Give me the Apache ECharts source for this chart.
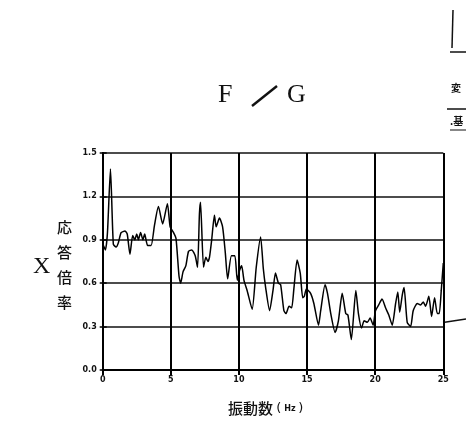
<!DOCTYPE html>
<html>
<head>
<meta charset="utf-8">
<script src="https://cdn.jsdelivr.net/npm/echarts@6/dist/echarts.min.js"></script>
<style>html,body{margin:0;padding:0;background:#fff;}#c{width:466px;height:426px;}</style>
</head>
<body>
<div id="c"></div>
<script>
// Frequency (Hz) and response ratio
var freq = [0.05,0.2,0.35,0.57,0.78,0.98,1.15,1.35,1.64,1.8,2.0,2.2,2.35,2.5,2.62,2.78,2.95,3.08,3.3,3.55,3.8,4.09,4.4,4.75,4.95,
  5.2,5.38,5.6,5.72,5.9,6.1,6.3,6.54,6.79,6.96,7.1,7.18,7.4,7.57,7.72,7.84,8.0,8.2,8.33,8.57,8.8,9.0,9.17,9.45,9.7,9.88,
  10.05,10.2,10.37,10.6,10.97,11.27,11.59,11.79,11.96,12.25,12.5,12.68,12.9,13.06,13.3,13.45,13.68,13.87,14.04,14.27,14.5,14.68,14.8,14.95,
  15.26,15.5,15.84,16.0,16.32,16.5,16.74,17.06,17.3,17.58,17.84,18.0,18.25,18.58,18.77,19.0,19.19,19.43,19.63,19.85,
  20.02,20.26,20.5,20.76,21.0,21.25,21.5,21.66,21.8,21.99,22.12,22.35,22.6,22.79,23.09,23.33,23.53,23.7,23.94,24.14,24.36,24.56,24.7,24.85,25.0];
var ratio = [0.86,0.83,0.95,1.39,0.87,0.85,0.88,0.95,0.96,0.94,0.80,0.93,0.90,0.94,0.90,0.95,0.90,0.94,0.86,0.86,1.00,1.13,1.01,1.15,0.99,
  0.95,0.91,0.65,0.60,0.68,0.72,0.82,0.83,0.79,0.71,1.08,1.16,0.71,0.78,0.75,0.78,0.90,1.07,0.99,1.05,0.99,0.81,0.63,0.79,0.79,0.62,
  0.69,0.72,0.62,0.55,0.42,0.71,0.92,0.70,0.57,0.41,0.55,0.67,0.60,0.59,0.41,0.39,0.44,0.43,0.57,0.76,0.67,0.50,0.51,0.56,
  0.53,0.46,0.31,0.41,0.59,0.53,0.39,0.26,0.34,0.53,0.39,0.38,0.21,0.55,0.39,0.29,0.34,0.33,0.36,0.31,
  0.41,0.45,0.49,0.43,0.38,0.31,0.46,0.54,0.40,0.52,0.57,0.33,0.30,0.41,0.46,0.45,0.47,0.44,0.51,0.37,0.50,0.39,0.39,0.55,0.74];
var xTicks = [0,5,10,15,20,25];
var yTicks = ['0.0','0.3','0.6','0.9','1.2','1.5'];

var pts = freq.map(function(f,i){return [f, ratio[i]];});
var chart = echarts.init(document.getElementById('c'), null, {renderer:'canvas'});
var lab = {fontFamily:'DejaVu Sans', fontWeight:'bold', fontSize:8, color:'#111'};
chart.setOption({
  backgroundColor:'#fff',
  animation:false,
  grid:{left:102.7, right:22.7, top:153, bottom:56, containLabel:false},
  xAxis:[{
    type:'value', min:0, max:25, interval:5,
    axisLine:{show:true, lineStyle:{color:'#000', width:2}},
    axisTick:{show:true, length:5, lineStyle:{color:'#000', width:2}},
    splitLine:{show:true, lineStyle:{color:'#000', width:2}},
    axisLabel:Object.assign({margin:6, formatter:function(v){return xTicks.indexOf(v)>=0?String(v):'';}}, lab)
  },{
    type:'value', min:0, max:25, interval:5, position:'top',
    axisLine:{show:true, lineStyle:{color:'#000', width:1.5}},
    axisTick:{show:true, length:4, lineStyle:{color:'#000', width:1.5}},
    splitLine:{show:false}, axisLabel:{show:false}
  }],
  yAxis:[{
    type:'value', min:0, max:1.5, interval:0.3,
    axisLine:{show:true, lineStyle:{color:'#000', width:2}},
    axisTick:{show:true, length:3, lineStyle:{color:'#000', width:1.5}},
    splitLine:{show:true, lineStyle:{color:'#111', width:1.5}},
    axisLabel:Object.assign({margin:6, formatter:function(v){return yTicks[Math.round(v/0.3)];}}, lab)
  },{
    type:'value', min:0, max:1.5, interval:0.3, position:'right',
    axisLine:{show:true, lineStyle:{color:'#000', width:2}},
    axisTick:{show:true, length:4, lineStyle:{color:'#000', width:1.5}},
    splitLine:{show:false}, axisLabel:{show:false}
  }],
  series:[{
    type:'line', data:pts, xAxisIndex:0, yAxisIndex:0,
    showSymbol:false, smooth:0.2,
    lineStyle:{color:'#000', width:1.5}
  }],
  graphic:[
    {type:'text', left:218, top:82, style:{text:'F', font:'26px "Liberation Serif"', fill:'#111'}},
    {type:'line', shape:{x1:252, y1:106, x2:277, y2:86}, style:{stroke:'#111', lineWidth:2.5}},
    {type:'text', left:287, top:82, style:{text:'G', font:'26px "Liberation Serif"', fill:'#111'}},
    {type:'text', left:33, top:255, style:{text:'X', font:'24px "Liberation Serif"', fill:'#111'}},
    {type:'text', left:57, top:215, style:{text:'応\n答\n倍\n率', font:'500 15px "Noto Sans CJK JP"', lineHeight:25, fill:'#111'}},
    {type:'text', left:228, top:401, style:{rich:{a:{font:'500 15px "Noto Sans CJK JP"', fill:'#111'}, b:{font:'bold 8px "DejaVu Sans"', fill:'#111'}, p:{font:'13px "DejaVu Sans"', fill:'#111'}}, text:'{a|振動数} {p|(}{b| Hz }{p|)}'}},
    {type:'line', shape:{x1:443, y1:322.5, x2:466, y2:319}, style:{stroke:'#111', lineWidth:1.5}},
    {type:'line', shape:{x1:453, y1:10, x2:452, y2:48}, style:{stroke:'#111', lineWidth:1.5}},
    {type:'line', shape:{x1:450, y1:52, x2:466, y2:52}, style:{stroke:'#111', lineWidth:1.5}},
    {type:'text', left:451, top:83, style:{text:'変', font:'bold 10px "Noto Sans CJK JP"', fill:'#111'}},
    {type:'line', shape:{x1:447, y1:109, x2:466, y2:109}, style:{stroke:'#111', lineWidth:1.5}},
    {type:'text', left:450, top:116, style:{text:'.基', font:'bold 10px "Noto Sans CJK JP"', fill:'#111'}},
    {type:'line', shape:{x1:450, y1:130, x2:466, y2:130}, style:{stroke:'#111', lineWidth:1}}
  ]
});
</script>
</body>
</html>
